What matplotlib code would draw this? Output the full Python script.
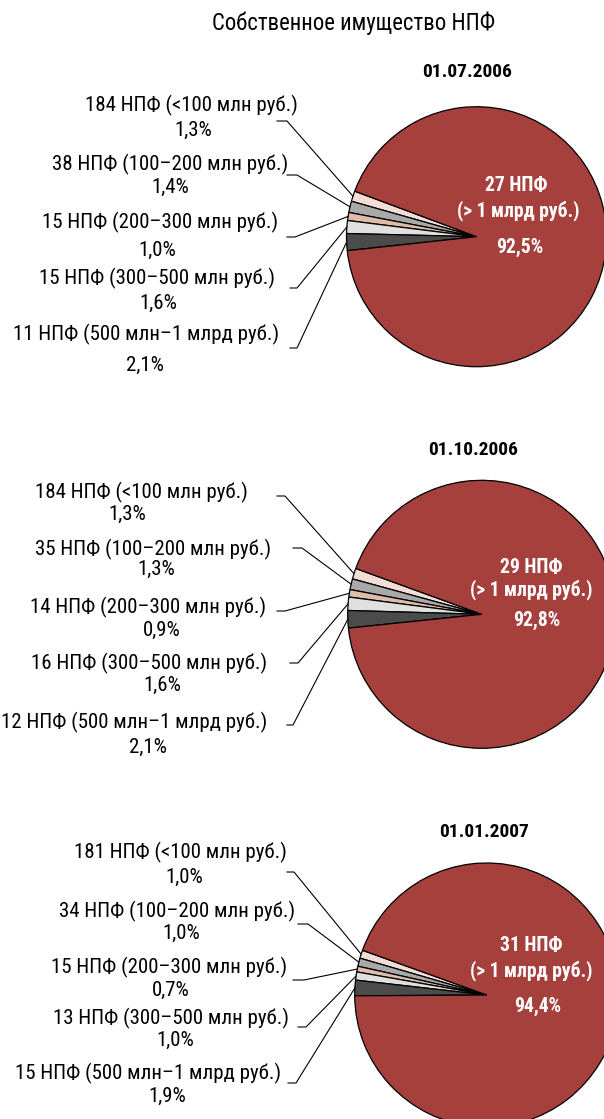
import numpy as np
import matplotlib
matplotlib.use("Agg")
import matplotlib.pyplot as plt
from matplotlib import font_manager as fm

# data
dates = ['01.07.2006', '01.10.2006', '01.01.2007']
groups = ['<100 млн руб.', '100–200 млн руб.', '200–300 млн руб.',
          '300–500 млн руб.', '500 млн–1 млрд руб.', '> 1 млрд руб.']
funds_2006_07 = [184, 38, 15, 15, 11, 27]
share_2006_07 = [1.3, 1.4, 1.0, 1.6, 2.1, 92.5]
funds_2006_10 = [184, 35, 14, 16, 12, 29]
share_2006_10 = [1.3, 1.3, 0.9, 1.6, 2.1, 92.8]
funds_2007_01 = [181, 34, 15, 13, 15, 31]
share_2007_01 = [1.0, 1.0, 0.7, 1.0, 1.9, 94.4]

funds = [funds_2006_07, funds_2006_10, funds_2007_01]
shares = [share_2006_07, share_2006_10, share_2007_01]

colors = ['#F2DED6', '#A9A9A9', '#DFBBAA', '#E0E0E0', '#4B4B4B', '#A6403D']

# layout (pixels from top-left)
W, H = 604, 1119
centers = [(476.5, 236.7), (481.7, 614.3), (486.7, 995.0)]
radii = [130, 134, 132]
starts = [159.5, 160.0, 160.2]
date_pos = [(467, 72), (473, 450), (484, 832)]
big_pos = [[(516, 186), (518, 211), (520, 247)],
           [(531, 568), (531, 590), (537, 620)],
           [(531, 945), (531, 971), (538, 1006)]]
name_pos = [[(191, 105), (170, 164), (160, 222), (157, 278), (146, 334)],
            [(141, 492), (153, 549), (148, 607), (149, 663), (134, 722)],
            [(180, 852), (177, 911), (169, 967), (171, 1018), (148, 1073)]]
pct_pos = [[(193, 130), (170, 187), (157, 250), (158, 303), (145, 365)],
           [(127, 514), (156, 569), (162, 630), (162, 685), (148, 747)],
           [(184, 877), (181, 933), (171, 990), (175, 1040), (167, 1096)]]
ticks = [[(277, 287, 121), (287, 297, 175), (287, 295, 237), (290, 297, 288), (290, 297, 348)],
         [(277, 285, 496), (293, 302, 548), (277, 285, 611), (290, 298, 663), (287, 293, 725)],
         [(287, 294, 872), (298, 308, 924), (293, 304, 980), (298, 306, 1027), (288, 296, 1083)]]

# pick a condensed font that is installed
candidates = ['Roboto Condensed', 'PT Sans Narrow', 'Fira Sans Condensed',
              'Sofia Sans Condensed', 'IBM Plex Sans Condensed', 'Archivo Narrow',
              'Liberation Sans Narrow', 'Arial Narrow', 'Open Sans Condensed']
static = {}
for f in fm.fontManager.ttflist:
    if '[' in f.fname:
        continue
    static.setdefault(f.name, set()).add(int(f.weight) if str(f.weight).isdigit() else 400)


def pick(bold):
    for c in candidates:
        if c in static:
            ws = static[c]
            if (bold and max(ws) >= 600) or (not bold and min(ws) < 600):
                return c
    return 'DejaVu Sans'


FONT = pick(False)
FONT_B = pick(True)
plt.rcParams['font.family'] = [FONT, 'DejaVu Sans']


def fy(y):
    return H - y


def pct_text(v):
    return f"{v:.1f}%".replace('.', ',')


fig = plt.figure(figsize=(W / 100, H / 100), dpi=100)
ax = fig.add_axes([0, 0, 1, 1])
renderer = fig.canvas.get_renderer()


def fit_size(s, family, weight, target):
    t = fig.text(0, 0, s, fontsize=10, family=[family, 'DejaVu Sans'], fontweight=weight)
    w = t.get_window_extent(renderer).width
    t.remove()
    return 10 * target / w


fs_lab = fit_size('184 НПФ (<100 млн руб.)', FONT, 'normal', 212)
fs_title = fit_size('Собственное имущество НПФ', FONT, 'normal', 282)
fs_date = fit_size('01.07.2006', FONT_B, 'bold', 90)
fs_big = fit_size('(> 1 млрд руб.)', FONT_B, 'bold', 123)

bold = dict(family=[FONT_B, 'DejaVu Sans'], fontweight='bold')

fig.text(354 / W, 1 - 23 / H, 'Собственное имущество НПФ', fontsize=fs_title,
         ha='center', va='center')

for i in range(3):
    cx, cy = centers[i]
    wedges, _ = ax.pie(shares[i], colors=colors, startangle=starts[i],
                       counterclock=True, center=(cx, fy(cy)), radius=radii[i],
                       wedgeprops=dict(edgecolor='black', linewidth=0.9),
                       frame=True)
    ax.text(date_pos[i][0], fy(date_pos[i][1]), dates[i], fontsize=fs_date,
            ha='center', va='center', **bold)

    # big slice label
    (x1, y1), (x2, y2), (x3, y3) = big_pos[i]
    ax.text(x1, fy(y1), f"{funds[i][5]} НПФ", color='white', fontsize=fs_big,
            ha='center', va='center', **bold)
    ax.text(x2, fy(y2), f"({groups[5]})", color='white', fontsize=fs_big,
            ha='center', va='center', **bold)
    ax.text(x3, fy(y3), pct_text(shares[i][5]), color='white', fontsize=fs_big,
            ha='center', va='center', **bold)

    # small slices: labels and leader lines
    for k in range(5):
        nx, ny = name_pos[i][k]
        px, py = pct_pos[i][k]
        ax.text(nx, fy(ny), f"{funds[i][k]} НПФ ({groups[k]})", fontsize=fs_lab,
                ha='center', va='center')
        ax.text(px, fy(py), pct_text(shares[i][k]), fontsize=fs_lab,
                ha='center', va='center')
        w = wedges[k]
        mid = np.deg2rad((w.theta1 + w.theta2) / 2)
        ex = w.center[0] + w.r * np.cos(mid)
        ey = w.center[1] + w.r * np.sin(mid)
        t0, t1, ty = ticks[i][k]
        ax.plot([t0, t1, ex], [fy(ty), fy(ty), ey], color='black', lw=0.8)

ax.set_xlim(0, W)
ax.set_ylim(0, H)
ax.set_aspect('equal')
ax.axis('off')

fig.savefig('out.png', dpi=100, facecolor='white')
